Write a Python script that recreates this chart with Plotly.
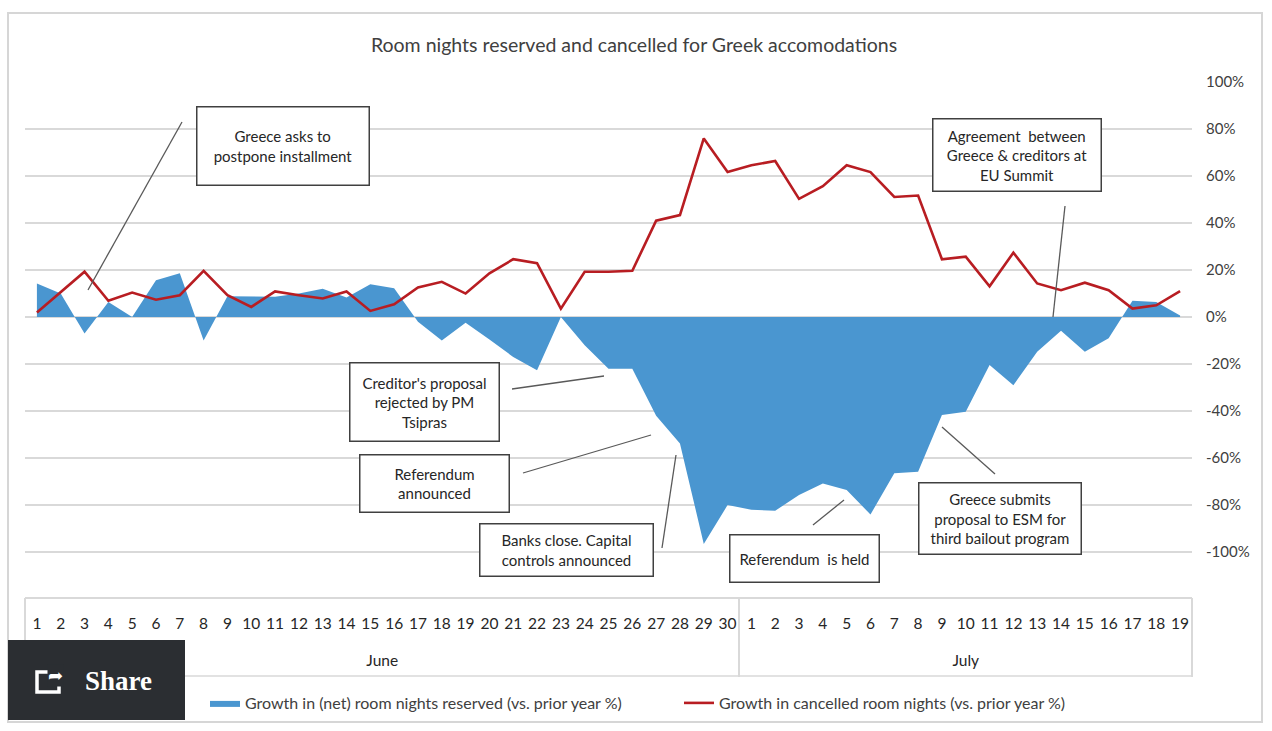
import pandas as pd
import plotly.graph_objects as go

# ---------------- data ----------------
dates = list(pd.date_range("2015-06-01", "2015-07-19", freq="D"))
month_labels = ["June", "July"]
month_centers = ["2015-06-15 12:00", "2015-07-10 00:00"]
month_bounds = ["2015-05-31 12:00", "2015-06-30 12:00", "2015-07-19 12:00"]

reserved_growth = [
    14.3, 10, -7, 6.4, 0, 15.7, 18.6, -10, 8.9, 8.9, 8.6, 10, 12, 8.3, 14, 12.3,
    -2, -10, -2.4, -9.5, -17, -22.6, 0, -12, -22, -22, -42, -53.8, -96.5, -80,
    -82, -82.4, -75.7, -70.8, -73.6, -84, -66.5, -65.8, -41.7, -40.3, -20.4, -29,
    -14.8, -5.8, -14.8, -9, 6.9, 6.4, 0.7,
]
cancelled_growth = [
    1.9, 10.5, 19.3, 6.9, 10.4, 7.4, 9.3, 19.7, 9.3, 4.3, 10.9, 9.3, 7.9, 10.9, 2.6, 5.4,
    12.6, 15, 10, 18.6, 24.6, 22.9, 3.6, 19.3, 19.3, 19.7, 41, 43.4, 76, 61.7,
    64.6, 66.4, 50.3, 55.7, 64.6, 61.7, 51.1, 51.7, 24.6, 25.7, 13.1, 27.4, 14.3,
    11.4, 14.6, 11.4, 3.6, 5, 11,
]
y_ticks = [-100, -80, -60, -40, -20, 0, 20, 40, 60, 80, 100]
y_tick_labels = ["-100%", "-80%", "-60%", "-40%", "-20%", "0%", "20%", "40%", "60%", "80%", "100%"]

title_text = "Room nights reserved and cancelled for Greek accomodations"
series_names = [
    "Growth in (net) room nights reserved (vs. prior year %)",
    "Growth in cancelled room nights (vs. prior year %)",
]
callouts = [
    "Greece asks to<br>postpone installment",
    "Agreement  between<br>Greece &amp; creditors at<br>EU Summit",
    "Creditor's proposal<br>rejected by PM<br>Tsipras",
    "Referendum<br>announced",
    "Banks close. Capital<br>controls announced",
    "Referendum  is held",
    "Greece submits<br>proposal to ESM for<br>third bailout program",
]

# ---------------- layout geometry ----------------
W, H = 1272, 731
ML, MR, MT, MB = 25, 80, 82, 134
PW, PH = W - ML - MR, H - MT - MB


def px(x, y):
    return (x - ML) / PW, (H - MB - y) / PH


FONT = "Lato, 'Open Sans', sans-serif"
BLUE = "#4a96d0"
RED = "#b81d22"
GRID = "#d9d9d9"

fig = go.Figure()
fig.add_trace(go.Scatter(
    x=dates, y=reserved_growth, name=series_names[0],
    mode="lines", line=dict(width=0, color=BLUE), fill="tozeroy", fillcolor=BLUE,
))
fig.add_trace(go.Scatter(
    x=dates, y=cancelled_growth, name=series_names[1],
    mode="lines", line=dict(width=2.6, color=RED),
))
# holder trace so the month axis is drawn
fig.add_trace(go.Scatter(x=[dates[0]], y=[None], xaxis="x2", showlegend=False,
                         hoverinfo="skip", mode="lines"))

shapes = []
annotations = []

# outer frame
x0, y0 = px(8, 13)
x1, y1 = px(1262, 722)
shapes.append(dict(type="rect", xref="paper", yref="paper", x0=x0, y0=y0, x1=x1, y1=y1,
                   line=dict(color="#d6d6d6", width=2), layer="below"))
# bottom of category box
bx0, by = px(25, 676)
bx1, _ = px(1192, 676)
shapes.append(dict(type="line", xref="paper", yref="paper", x0=bx0, y0=by, x1=bx1, y1=by,
                   line=dict(color=GRID, width=1.5)))

# callout boxes (box pixels) and leader lines
boxes = [
    ((196, 106, 370, 186), (182, 122, 88, 290)),
    ((932, 118, 1102, 192), (1065, 206, 1053, 317)),
    ((349, 362, 500, 442), (512, 389, 604, 376)),
    ((359, 454, 510, 513), (523, 473, 651, 435)),
    ((479, 523, 654, 577), (662, 548, 676, 455)),
    ((729, 534, 880, 583), (813, 525, 844, 500)),
    ((918, 482, 1082, 555), (995, 474, 942, 427)),
]
for text, (box, line) in zip(callouts, boxes):
    bx0_, by0_, bx1_, by1_ = box
    cx, cy = px((bx0_ + bx1_) / 2, (by0_ + by1_) / 2)
    annotations.append(dict(
        xref="paper", yref="paper", x=cx, y=cy, xanchor="center", yanchor="middle",
        text=text, showarrow=False,
        width=bx1_ - bx0_ - 7, height=by1_ - by0_ - 7, borderpad=2,
        bordercolor="#404040", borderwidth=1.5, bgcolor="white",
        font=dict(family=FONT, size=15, color="#262626"), align="center", valign="middle",
    ))
    lx0, ly0 = px(line[0], line[1])
    lx1, ly1 = px(line[2], line[3])
    shapes.append(dict(type="line", xref="paper", yref="paper", x0=lx0, y0=ly0, x1=lx1, y1=ly1,
                       line=dict(color="#595959", width=1.3)))

# "Share" overlay
sx0, sy0 = px(8, 640)
sx1, sy1 = px(185, 720)
shapes.append(dict(type="rect", xref="paper", yref="paper", x0=sx0, y0=sy0, x1=sx1, y1=sy1,
                   fillcolor="#2b2e32", line=dict(width=0)))
ix0, iy0 = px(37, 672)
ix1, iy1 = px(59, 692)
shapes.append(dict(type="rect", xref="paper", yref="paper", x0=ix0, y0=iy0, x1=ix1, y1=iy1,
                   fillcolor="rgba(0,0,0,0)", line=dict(color="white", width=3.5)))
ax_, ay_ = px(55, 675)
annotations.append(dict(xref="paper", yref="paper", x=ax_, y=ay_, xanchor="center",
                        yanchor="middle", text="➦", showarrow=False,
                        font=dict(family="DejaVu Sans", size=18, color="white"),
                        bgcolor="#2b2e32", borderpad=0))
tx, ty = px(118, 681)
annotations.append(dict(xref="paper", yref="paper", x=tx, y=ty, xanchor="center",
                        yanchor="middle", text="<b>Share</b>", showarrow=False,
                        font=dict(family="Liberation Serif, serif", size=27, color="white")))

x_range = [month_bounds[0], month_bounds[-1]]

fig.update_layout(
    width=W, height=H,
    margin=dict(l=ML, r=MR, t=MT, b=MB, pad=0),
    paper_bgcolor="white", plot_bgcolor="white",
    title=dict(text=title_text, x=634 / W, xref="container", xanchor="center",
               y=1 - 45 / H, yref="container", yanchor="middle",
               font=dict(family=FONT, size=19.5, color="#404040")),
    font=dict(family=FONT, color="#404040"),
    showlegend=True,
    legend=dict(orientation="h", xref="container", yref="container",
                x=205 / W, xanchor="left", y=1 - 703 / H, yanchor="middle",
                font=dict(family=FONT, size=16, color="#404040"),
                itemwidth=30, tracegroupgap=0, entrywidth=429, entrywidthmode="pixels"),
    shapes=shapes, annotations=annotations,
    xaxis=dict(
        type="date", range=x_range, showgrid=False,
        showline=True, linecolor=GRID, linewidth=1.5,
        tickmode="linear", tick0="2015-06-01", dtick=86400000, tickformat="%-d",
        tickfont=dict(family=FONT, size=15.5, color="#262626"),
        tickangle=0, ticks="", ticklabelstandoff=12,
    ),
    xaxis2=dict(
        type="date", range=x_range, overlaying="x", anchor="y", side="bottom",
        showgrid=False, showline=False, zeroline=False,
        tickmode="array", tickvals=month_centers, ticktext=month_labels,
        ticks="", ticklabelstandoff=52, tickangle=0,
        tickfont=dict(family=FONT, size=15.5, color="#262626"),
        minor=dict(tickmode="array", tickvals=month_bounds, ticks="outside",
                   ticklen=79, tickcolor=GRID, tickwidth=1.5, showgrid=False),
    ),
    yaxis=dict(
        side="right", range=[-119.1, 100], tickvals=y_ticks, ticktext=y_tick_labels,
        showgrid=True, gridcolor=GRID, gridwidth=1.5,
        zeroline=True, zerolinecolor=GRID, zerolinewidth=1.5,
        showline=False, ticks="", ticklabelstandoff=13,
        tickfont=dict(family=FONT, size=15, color="#404040"),
    ),
)

fig.write_html("out.html", config={"displayModeBar": False},
               post_script="document.body.style.margin='0';document.body.style.overflow='hidden';")
